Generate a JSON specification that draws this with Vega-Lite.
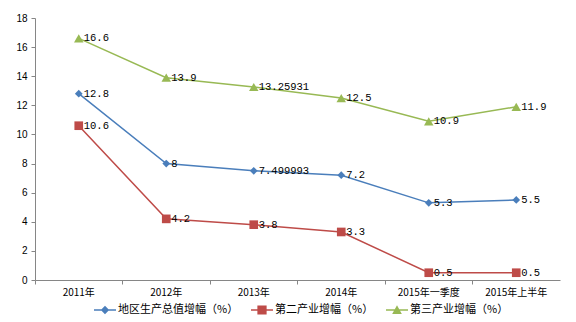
{
  "$schema": "https://vega.github.io/schema/vega-lite/v6.json",
  "width": 525,
  "height": 262,
  "autosize": {"type": "none"},
  "padding": {"left": 35, "top": 18, "right": 16, "bottom": 42},
  "background": "white",
  "config": {"view": {"stroke": null}},
  "data": {"values": [
    {"cat": "2011年", "series": "地区生产总值增幅（%）", "value": 12.8, "label": "12.8"},
    {"cat": "2012年", "series": "地区生产总值增幅（%）", "value": 8, "label": "8"},
    {"cat": "2013年", "series": "地区生产总值增幅（%）", "value": 7.499993, "label": "7.499993"},
    {"cat": "2014年", "series": "地区生产总值增幅（%）", "value": 7.2, "label": "7.2"},
    {"cat": "2015年一季度", "series": "地区生产总值增幅（%）", "value": 5.3, "label": "5.3"},
    {"cat": "2015年上半年", "series": "地区生产总值增幅（%）", "value": 5.5, "label": "5.5"},
    {"cat": "2011年", "series": "第二产业增幅（%）", "value": 10.6, "label": "10.6"},
    {"cat": "2012年", "series": "第二产业增幅（%）", "value": 4.2, "label": "4.2"},
    {"cat": "2013年", "series": "第二产业增幅（%）", "value": 3.8, "label": "3.8"},
    {"cat": "2014年", "series": "第二产业增幅（%）", "value": 3.3, "label": "3.3"},
    {"cat": "2015年一季度", "series": "第二产业增幅（%）", "value": 0.5, "label": "0.5"},
    {"cat": "2015年上半年", "series": "第二产业增幅（%）", "value": 0.5, "label": "0.5"},
    {"cat": "2011年", "series": "第三产业增幅（%）", "value": 16.6, "label": "16.6"},
    {"cat": "2012年", "series": "第三产业增幅（%）", "value": 13.9, "label": "13.9"},
    {"cat": "2013年", "series": "第三产业增幅（%）", "value": 13.25931, "label": "13.25931"},
    {"cat": "2014年", "series": "第三产业增幅（%）", "value": 12.5, "label": "12.5"},
    {"cat": "2015年一季度", "series": "第三产业增幅（%）", "value": 10.9, "label": "10.9"},
    {"cat": "2015年上半年", "series": "第三产业增幅（%）", "value": 11.9, "label": "11.9"}
  ]},
  "encoding": {
    "x": {"field": "cat", "type": "nominal", "sort": null,
      "scale": {"type": "band", "paddingInner": 0, "paddingOuter": 0},
      "axis": {"title": null, "labelAngle": 0, "labelFont": "Noto Sans CJK SC", "labelFontSize": 10, "labelColor": "#000", "labelPadding": 3,
        "domainColor": "#868686", "tickColor": "#868686", "tickSize": 4, "bandPosition": 0, "labelBound": false, "labelOverlap": false}},
    "y": {"field": "value", "type": "quantitative",
      "scale": {"domain": [0, 18], "nice": false},
      "axis": {"title": null, "values": [0,2,4,6,8,10,12,14,16,18], "grid": false, "labelFont": "Liberation Sans", "labelFontSize": 10, "labelColor": "#000",
        "domainColor": "#868686", "tickColor": "#868686", "tickSize": 4, "labelPadding": 4}}
  },
  "layer": [
    {"mark": {"type": "line", "strokeWidth": 1.5},
      "encoding": {"color": {"field": "series", "type": "nominal", "sort": null,
        "scale": {"domain": ["地区生产总值增幅（%）", "第二产业增幅（%）", "第三产业增幅（%）"], "range": ["#4A7EBB", "#BE4B48", "#98B954"]},
        "legend": null}}},
    {"mark": {"type": "point", "filled": true, "opacity": 1},
      "encoding": {
        "color": {"field": "series", "type": "nominal", "sort": null, "legend": null},
        "shape": {"field": "series", "type": "nominal", "sort": null,
          "scale": {"domain": ["地区生产总值增幅（%）", "第二产业增幅（%）", "第三产业增幅（%）"], "range": ["diamond", "square", "triangle-up"]},
          "legend": null},
        "size": {"field": "series", "type": "nominal", "scale": {"domain": ["地区生产总值增幅（%）", "第二产业增幅（%）", "第三产业增幅（%）"], "range": [60, 90, 80]}, "legend": null}
      }},
    {"transform": [{"filter": "datum.value < -100"}],
      "mark": {"type": "point", "filled": true, "opacity": 1},
      "encoding": {
        "color": {"field": "series", "type": "nominal", "sort": null,
          "legend": {"title": null, "orient": "none", "legendX": 59, "legendY": 281, "padding": 0, "direction": "horizontal", "labelFont": "Noto Sans CJK SC", "labelFontSize": 11, "labelColor": "#000", "columnPadding": 12, "labelOffset": 2, "symbolSize": 484, "symbolOpacity": 1, "symbolStrokeWidth": 0}},
        "shape": {"field": "series", "type": "nominal", "sort": null,
          "scale": {"domain": ["地区生产总值增幅（%）", "第二产业增幅（%）", "第三产业增幅（%）"], "range": [
            "M-1,-0.07H1V0.07H-1ZM0,-0.38L0.38,0L0,0.38L-0.38,0Z",
            "M-1,-0.07H1V0.07H-1ZM-0.42,-0.42H0.42V0.42H-0.42Z",
            "M-1,-0.07H1V0.07H-1ZM0,-0.44L0.44,0.36H-0.44Z"]},
          "legend": {"title": null, "orient": "none", "legendX": 59, "legendY": 281, "padding": 0, "direction": "horizontal", "labelFont": "Noto Sans CJK SC", "labelFontSize": 11, "labelColor": "#000", "columnPadding": 12, "labelOffset": 2, "symbolSize": 484, "symbolOpacity": 1, "symbolStrokeWidth": 0}}
      }},
    {"mark": {"type": "text", "align": "left", "baseline": "middle", "dx": 5, "font": "Liberation Mono", "fontSize": 10.5, "color": "#000"},
      "encoding": {"text": {"field": "label"}}}
  ],
  "resolve": {"scale": {"shape": "independent"}, "legend": {"color": "independent", "shape": "independent"}}
}
